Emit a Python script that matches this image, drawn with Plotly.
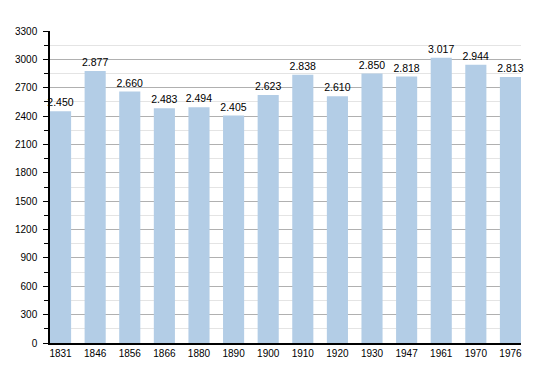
import plotly.graph_objects as go

years = ["1831", "1846", "1856", "1866", "1880", "1890", "1900", "1910", "1920", "1930", "1947", "1961", "1970", "1976"]
population = [2450, 2877, 2660, 2483, 2494, 2405, 2623, 2838, 2610, 2850, 2818, 3017, 2944, 2813]
labels = [f"{v:,}".replace(",", ".") for v in population]
y_ticks = list(range(0, 3301, 300))

bar_w = 0.61
fig = go.Figure(go.Bar(
    x=years, y=population, text=labels, textposition="outside",
    textfont=dict(family="Liberation Sans", size=10.5, color="#000"),
    marker=dict(color="#b3cde6", line=dict(width=0)),
    width=bar_w, cliponaxis=False,
))
# page body has an 8px default margin, so the figure is shifted by 8px
fig.update_layout(
    width=542, height=365,
    margin=dict(l=42, r=29, t=23, b=30),
    plot_bgcolor="white", paper_bgcolor="white",
    font=dict(family="Liberation Sans", size=10, color="#000"),
    showlegend=False,
    uniformtext=dict(minsize=10, mode="show"),
)
fig.update_xaxes(
    type="category", range=[-bar_w / 2, len(years) - 1 + bar_w / 2],
    showline=True, linecolor="#000", linewidth=1.5, ticks="",
    tickfont=dict(size=10), showgrid=False, automargin=False,
)
fig.update_yaxes(
    range=[0, 3300], tickvals=y_ticks, ticktext=[str(t) for t in y_ticks],
    showline=True, linecolor="#000", linewidth=1.5,
    ticks="outside", ticklen=5, tickcolor="#000", tickwidth=1,
    gridcolor="#b0b0b0", gridwidth=1, zeroline=False,
    tickfont=dict(size=10), automargin=False, ticklabelstandoff=4,
    minor=dict(dtick=150, tick0=0, showgrid=True, gridcolor="#e4e4e4", gridwidth=1,
               ticks="outside", ticklen=4, tickcolor="#000"),
)
fig.write_html("out.html")
